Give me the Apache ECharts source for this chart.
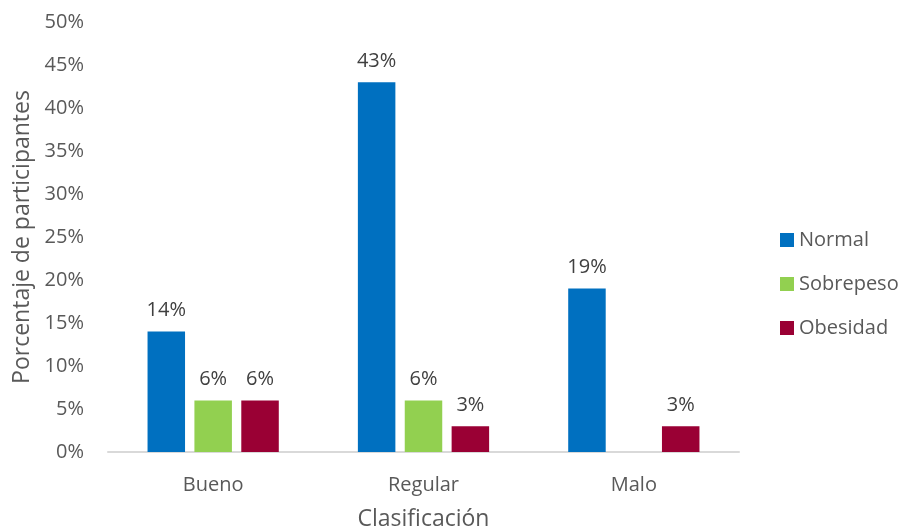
<!DOCTYPE html>
<html>
<head>
    <meta charset="utf-8">
    <title>Clasificación por IMC</title>
    <script src="https://cdn.jsdelivr.net/npm/echarts@6/dist/echarts.min.js"></script>
    <style type="text/css">
        html, body {
            margin: 0;
            padding: 0;
            background: #ffffff;
        }
        #chart {
            width: 906px;
            height: 531px;
        }
    </style>
</head>
<body>
<div id="chart"></div>
<script>
    // datos
    var categorias = ['Bueno', 'Regular', 'Malo'];
    var normal = [14, 43, 19];
    var sobrepeso = [6, 6, null];
    var obesidad = [6, 3, 3];
    var nombres = ['Normal', 'Sobrepeso', 'Obesidad'];

    var fuente = '"Open Sans", "Noto Sans", sans-serif';
    var chart = echarts.init(document.getElementById('chart'));

    function serie(nombre, datos, color) {
        return {
            name: nombre,
            type: 'bar',
            data: datos,
            barGap: '25%',
            barCategoryGap: '37.6%',
            itemStyle: {color: color},
            label: {
                show: true,
                position: 'top',
                distance: 11,
                color: '#404040',
                fontFamily: fuente,
                fontSize: 20,
                formatter: function (p) {
                    return p.value == null ? '' : p.value + '%';
                }
            }
        };
    }

    var option = {
        animation: false,
        textStyle: {fontFamily: fuente},
        grid: {left: 108, right: 167, top: 22, bottom: 79, outerBoundsMode: 'none'},
        legend: {
            orient: 'vertical',
            left: 775,
            top: 225,
            itemWidth: 14,
            itemHeight: 14,
            itemGap: 24,
            itemStyle: {borderWidth: 0},
            icon: 'rect',
            data: nombres,
            textStyle: {color: '#595959', fontSize: 20, fontFamily: fuente}
        },
        xAxis: {
            type: 'category',
            data: categorias,
            name: 'Clasificación',
            nameLocation: 'middle',
            nameGap: 56,
            nameTextStyle: {color: '#595959', fontSize: 23, fontFamily: fuente},
            axisLine: {lineStyle: {color: '#d9d9d9', width: 2}},
            axisTick: {show: false},
            axisLabel: {color: '#595959', fontSize: 20, margin: 23, fontFamily: fuente}
        },
        yAxis: {
            type: 'value',
            min: 0,
            max: 50,
            interval: 5,
            name: 'Porcentaje de participantes',
            nameLocation: 'middle',
            nameGap: 74,
            nameTextStyle: {color: '#595959', fontSize: 23, fontFamily: fuente},
            axisLine: {show: false},
            axisTick: {show: false},
            splitLine: {show: false},
            axisLabel: {color: '#595959', fontSize: 20, margin: 24, fontFamily: fuente, formatter: '{value}%'}
        },
        series: [
            serie(nombres[0], normal, '#0070C0'),
            serie(nombres[1], sobrepeso, '#92D050'),
            serie(nombres[2], obesidad, '#9A0034')
        ]
    };
    chart.setOption(option);
</script>
</body>
</html>
